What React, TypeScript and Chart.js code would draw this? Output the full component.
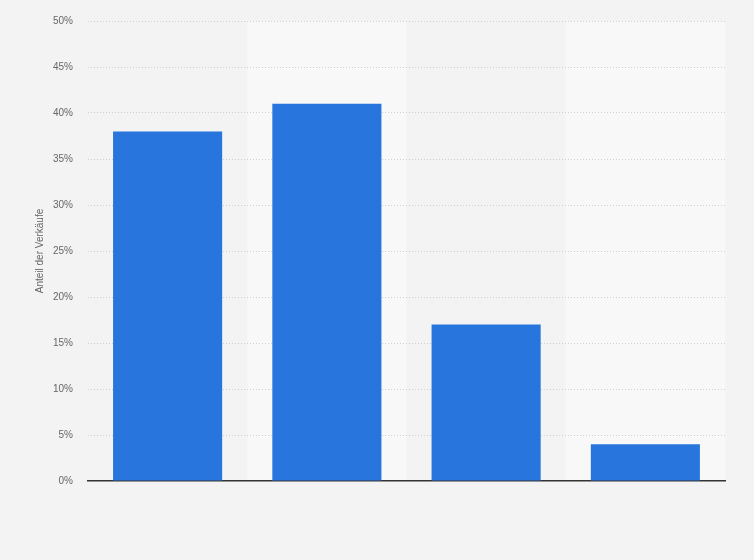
import { useEffect, useRef } from "react";
import { Chart, registerables, Plugin } from "chart.js";

Chart.register(...registerables);

const categories = ["A", "B", "C", "D"];
const shares = [38, 41, 17, 4];
const yTicks = [0, 5, 10, 15, 20, 25, 30, 35, 40, 45, 50];

// alternating light column bands behind the bars
const bandPlugin: Plugin<"bar"> = {
  id: "bands",
  beforeDraw(chart) {
    const { ctx, chartArea, scales } = chart;
    const x = scales.x;
    const w = (chartArea.right - chartArea.left) / categories.length;
    ctx.save();
    categories.forEach((_, i) => {
      if (i % 2 === 1) {
        const cx = x.getPixelForValue(i);
        ctx.fillStyle = "#f8f8f8";
        ctx.fillRect(cx - w / 2, chartArea.top, w, chartArea.bottom - chartArea.top);
      }
    });
    ctx.restore();
  },
};

export default function App() {
  const chartRef = useRef<HTMLCanvasElement>(null);
  const chartInstance = useRef<Chart | null>(null);

  useEffect(() => {
    if (!chartRef.current) return;
    if (chartInstance.current) chartInstance.current.destroy();
    const ctx = chartRef.current.getContext("2d");
    if (!ctx) return;

    chartInstance.current = new Chart(ctx, {
      type: "bar",
      data: {
        labels: categories,
        datasets: [
          {
            data: shares,
            backgroundColor: "#2876dd",
            categoryPercentage: 1,
            barPercentage: 0.685,
          },
        ],
      },
      options: {
        animation: false,
        responsive: true,
        maintainAspectRatio: false,
        layout: { padding: { top: 14, right: 29, bottom: 79, left: 0 } },
        plugins: { legend: { display: false }, tooltip: { enabled: false } },
        scales: {
          x: {
            ticks: { display: false },
            grid: { display: false, drawTicks: false },
            border: { display: true, color: "#333333", width: 1.5 },
          },
          y: {
            min: 0,
            max: 50,
            afterFit: (scale: any) => {
              scale.width = 88;
            },
            afterBuildTicks: (scale: any) => {
              scale.ticks = yTicks.map((v) => ({ value: v }));
            },
            ticks: {
              padding: 15,
              color: "#666666",
              font: { family: "'Liberation Sans', Arial, sans-serif", size: 10 },
              callback: (v) => `${v}%`,
            },
            grid: {
              drawTicks: false,
              color: (c) => (c.tick && c.tick.value === 0 ? "rgba(0,0,0,0)" : "#cfcfcf"),
              lineWidth: 1,
            },
            border: { display: false, dash: [1, 2] },
            title: {
              display: true,
              text: "Anteil der Verkäufe",
              color: "#666666",
              font: { family: "'Liberation Sans', Arial, sans-serif", size: 10 },
              padding: { top: 34, bottom: 0 },
            },
          },
        },
      },
      plugins: [bandPlugin],
    });

    return () => {
      if (chartInstance.current) chartInstance.current.destroy();
    };
  }, []);

  return (
    <div style={{ position: "fixed", left: 0, top: 0, width: 754, height: 560, background: "#f3f3f3" }}>
      <canvas ref={chartRef} />
    </div>
  );
}
